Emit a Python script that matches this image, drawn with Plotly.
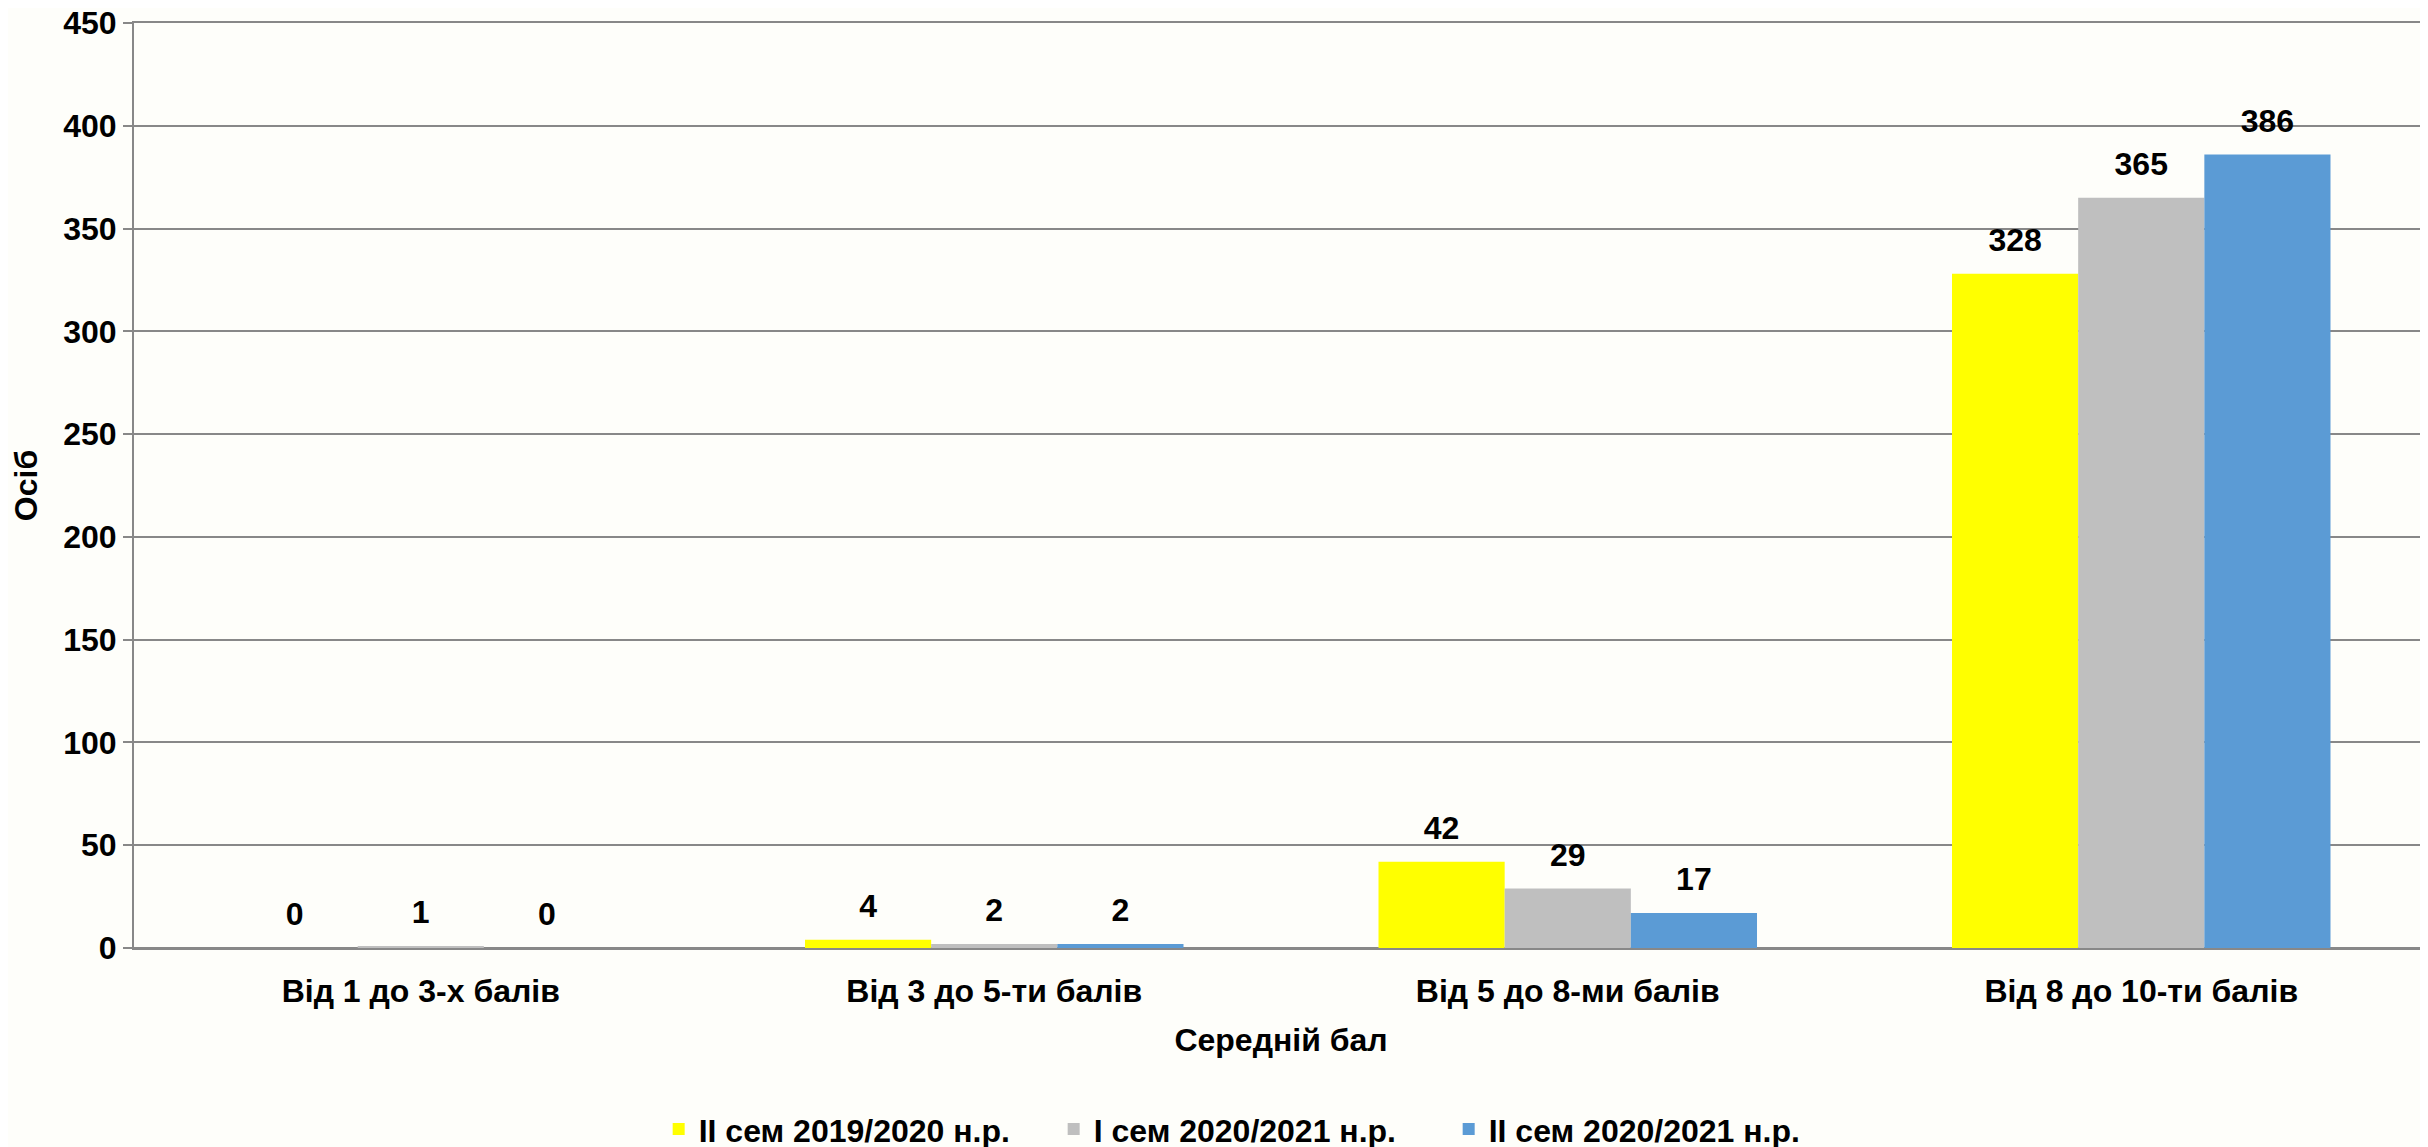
import plotly.graph_objects as go

categories = ["Від 1 до 3-х балів", "Від 3 до 5-ти балів", "Від 5 до 8-ми балів", "Від 8 до 10-ти балів"]
series_names = ["II сем 2019/2020 н.р.", "I сем 2020/2021 н.р.", "II сем 2020/2021 н.р."]
sem2_2019 = [0, 4, 42, 328]
sem1_2020 = [1, 2, 29, 365]
sem2_2020 = [0, 2, 17, 386]
colors = ["#FFFF00", "#BFBFBF", "#5B9BD5"]

FONT = "Liberation Sans, Arial, sans-serif"
GRID = "#888888"

fig = go.Figure()
for name, vals, col in zip(series_names, [sem2_2019, sem1_2020, sem2_2020], colors):
    fig.add_trace(go.Bar(
        x=categories, y=vals, name=name, marker_color=col, marker_line_width=0,
        hoverinfo="y",
    ))
# data labels as grouped text traces so they sit a little higher above the bars
for name, vals in zip(series_names, [sem2_2019, sem1_2020, sem2_2020]):
    fig.add_trace(go.Scatter(
        x=categories, y=vals, mode="markers+text", text=vals,
        textposition="top center", cliponaxis=False, showlegend=False,
        marker=dict(size=22, opacity=0), hoverinfo="skip",
        textfont=dict(family=FONT, size=32, color="black", weight="bold"),
    ))

# page body has an 8px default margin -> margins trimmed by 8px on top/left
fig.update_layout(
    width=2428, height=1147,
    margin=dict(l=126, r=8, t=15, b=207, autoexpand=False),
    barmode="group", bargap=0.34, bargroupgap=0,
    scattermode="group", scattergap=0.34,
    plot_bgcolor="#FEFEFA", paper_bgcolor="#FEFEFA",
    font=dict(family=FONT, size=32, color="black", weight="bold"),
    legend=dict(orientation="h", x=0.487, xanchor="center", y=-0.196, yanchor="middle",
                font=dict(size=32), entrywidth=350, itemwidth=30),
)
fig.update_xaxes(
    automargin=False, showline=True, mirror=True, linecolor=GRID, linewidth=2,
    ticks="", tickfont=dict(size=32), ticklabelstandoff=14,
    title=dict(text="Середній бал", font=dict(size=32), standoff=20),
)
fig.update_yaxes(
    automargin=False, range=[0, 450], dtick=50, ticklabeloverflow="allow",
    showgrid=True, gridcolor=GRID, gridwidth=2,
    showline=True, linecolor=GRID, linewidth=2,
    ticks="outside", ticklen=9, tickcolor=GRID, tickwidth=2,
    tickfont=dict(size=32), zeroline=True, zerolinecolor=GRID, zerolinewidth=2,
    title=dict(text="Осіб", font=dict(size=32), standoff=22),
)

fig.write_html("out.html")
